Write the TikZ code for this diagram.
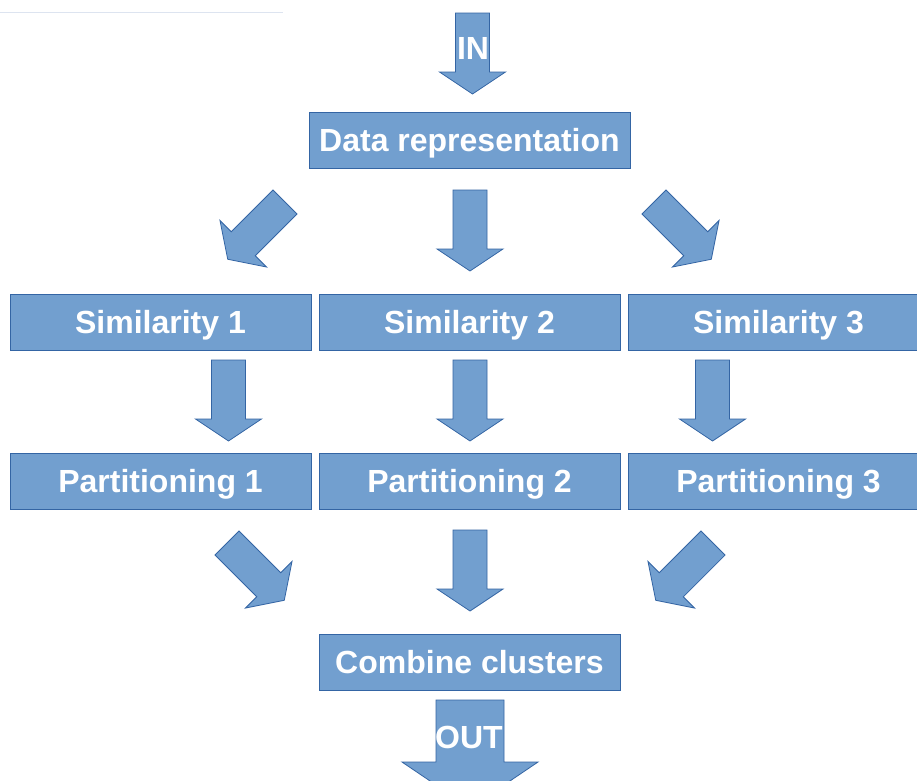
\documentclass[tikz,border=0pt]{standalone}
\usepackage{fontspec}
\setmainfont{Liberation Sans}
\definecolor{boxfill}{HTML}{729FCF}
\definecolor{boxline}{HTML}{3465A4}
\definecolor{faintline}{HTML}{DDE4F0}
\tikzset{
  stage/.style={draw=boxline, fill=boxfill, line width=1pt, rectangle,
    minimum width=301pt, minimum height=56pt, inner sep=0pt, text depth=0pt,
    text=white, font=\fontsize{32}{38}\selectfont\bfseries},
  arrowlabel/.style={text=white, inner sep=0pt, font=\fontsize{32}{38}\selectfont\bfseries},
  blockarrow/.pic={
    \draw[draw=boxline, fill=boxfill, line width=0.8pt, line join=miter]
      (-17,0) -- (17,0) -- (17,59) -- (33,59) -- (0,81) -- (-33,59) -- (-17,59) -- cycle;
  }
}
\begin{document}
\begin{tikzpicture}[x=1pt, y=-1pt]
\useasboundingbox (0,0) rectangle (917,780);
\clip (0,0) rectangle (917,780);
\fill[white] (0,0) rectangle (917,780);

% faint rule at the top
\draw[faintline, line width=1pt] (0,12) -- (283,12);

% processing stages
\node[stage, minimum width=321pt] (data) at (469.5,140) {Data representation};
\node[stage] (sim1) at (160.5,322) {Similarity 1};
\node[stage] (sim2) at (469.5,322) {Similarity 2};
\node[stage] (sim3) at (778.5,322) {Similarity 3};
\node[stage] (part1) at (160.5,481) {Partitioning 1};
\node[stage] (part2) at (469.5,481) {Partitioning 2};
\node[stage] (part3) at (778.5,481) {Partitioning 3};
\node[stage] (comb) at (469.5,662) {Combine clusters};

% input arrow
\pic at (472.5,13) {blockarrow};
\node[arrowlabel] (in) at (473,48) {IN};

% data representation to similarities
\pic[rotate=-45] at (285,202) {blockarrow};
\pic at (470,190) {blockarrow};
\pic[rotate=45] at (654,202) {blockarrow};

% similarities to partitionings
\pic at (228.5,360) {blockarrow};
\pic at (470,360) {blockarrow};
\pic at (712.5,360) {blockarrow};

% partitionings to combination
\pic[rotate=45] at (227,543) {blockarrow};
\pic at (470,530) {blockarrow};
\pic[rotate=-45] at (713,543) {blockarrow};

% output arrow
\draw[draw=boxline, fill=boxfill, line width=0.8pt]
  (436,700) -- (504,700) -- (504,762) -- (538,762) -- (470,808) -- (402,762) -- (436,762) -- cycle;
\node[arrowlabel] (out) at (469,737) {OUT};
\end{tikzpicture}
\end{document}
